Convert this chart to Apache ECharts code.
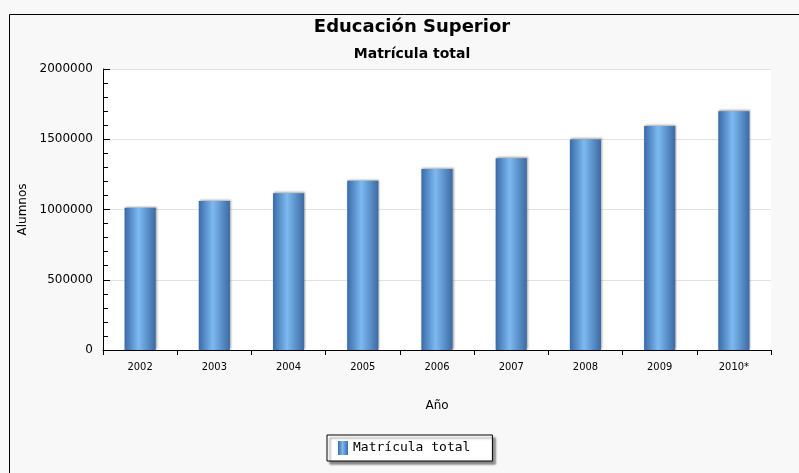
<!DOCTYPE html>
<html>
<head>
<meta charset="utf-8">
<script src="https://cdn.jsdelivr.net/npm/echarts@6/dist/echarts.min.js"></script>
<style>
	html, body { margin: 0; padding: 0; background: #f8f8f8; }
	#main { width: 799px; height: 473px; }
</style>
</head>
<body>
<div id="main"></div>
<script>
	// datos
	var years = ['2002', '2003', '2004', '2005', '2006', '2007', '2008', '2009', '2010*']
	var alumnos = [1013000, 1060000, 1115000, 1205000, 1288000, 1364000, 1499000, 1594000, 1699000]
	var seriesName = 'Matrícula total'

	var barColor = new echarts.graphic.LinearGradient(0, 0, 1, 0, [
		{offset: 0, color: '#3a6aa8'},
		{offset: 0.45, color: '#7cbaf0'},
		{offset: 1, color: '#3c6aa4'}
	])

	var myChart = echarts.init(document.getElementById('main'))
	myChart.setOption({
		backgroundColor: '#f8f8f8',
		animation: false,
		graphic: [
			{
				type: 'polyline',
				shape: {points: [[9.5, 473], [9.5, 14.5], [799, 14.5]]},
				style: {stroke: '#000', lineWidth: 1, fill: null}
			},
			{
				type: 'text', x: 412, y: 27,
				style: {text: 'Educación Superior', font: 'bold 18px "DejaVu Sans"', fill: '#000', align: 'center', verticalAlign: 'middle'}
			},
			{
				type: 'text', x: 412, y: 54,
				style: {text: 'Matrícula total', font: 'bold 14px "DejaVu Sans"', fill: '#000', align: 'center', verticalAlign: 'middle'}
			}
		],
		grid: {
			left: 103, right: 28, top: 69, bottom: 123,
			show: true, backgroundColor: '#fff', borderWidth: 0
		},
		legend: {
			data: [seriesName],
			left: 327, top: 435,
			backgroundColor: '#fff',
			borderColor: '#000',
			borderWidth: 1,
			borderRadius: 0,
			padding: [6, 22, 6, 11],
			shadowColor: 'rgba(0,0,0,0.45)',
			shadowOffsetX: 3,
			shadowOffsetY: 3,
			shadowBlur: 2,
			icon: 'rect',
			itemWidth: 10,
			itemHeight: 14,
			itemGap: 6,
			textStyle: {fontFamily: '"DejaVu Sans Mono"', fontSize: 13, color: '#000'}
		},
		xAxis: {
			type: 'category',
			data: years,
			name: 'Año',
			nameLocation: 'middle',
			nameGap: 50,
			nameTextStyle: {fontFamily: '"DejaVu Sans"', fontSize: 12, color: '#000'},
			axisLine: {lineStyle: {color: '#000', width: 1}},
			axisTick: {show: true, length: 5, lineStyle: {color: '#000'}},
			axisLabel: {fontFamily: '"DejaVu Sans Condensed"', fontSize: 11, color: '#000', margin: 12}
		},
		yAxis: {
			type: 'value',
			min: 0,
			max: 2000000,
			interval: 500000,
			name: 'Alumnos',
			nameLocation: 'middle',
			nameGap: 67,
			nameTextStyle: {fontFamily: '"DejaVu Sans"', fontSize: 12, color: '#000', verticalAlign: 'middle'},
			axisLine: {show: true, lineStyle: {color: '#000', width: 1}},
			axisTick: {show: true, inside: true, length: 7, lineStyle: {color: '#000'}},
			minorTick: {show: true, splitNumber: 5, length: 5, lineStyle: {color: '#000'}},
			splitLine: {lineStyle: {color: '#e2e2e2'}},
			axisLabel: {
				fontFamily: '"DejaVu Sans"', fontSize: 12, color: '#000', margin: 10,
				formatter: function (v) { return String(v) }
			}
		},
		series: [{
			name: seriesName,
			type: 'bar',
			data: alumnos,
			barWidth: '42%',
			itemStyle: {
				color: barColor,
				shadowColor: 'rgba(0,0,0,0.35)',
				shadowBlur: 2,
				shadowOffsetX: 1,
				shadowOffsetY: -1
			}
		}]
	})
</script>
</body>
</html>
